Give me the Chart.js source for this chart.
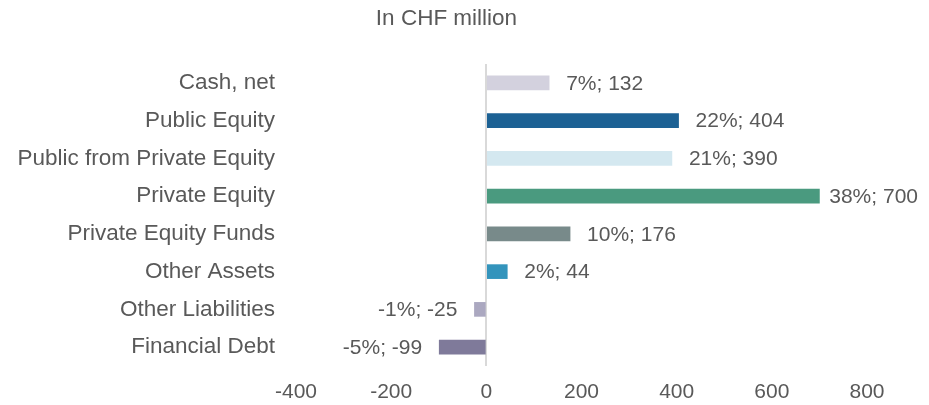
<!DOCTYPE html>
<html>
<head>
<meta charset="utf-8">
<script src="https://cdn.jsdelivr.net/npm/chart.js@4/dist/chart.umd.min.js"></script>
<style>
html,body{margin:0;padding:0;background:#fff;}
#wrap{width:929px;height:405px;}
</style>
</head>
<body>
<div id="wrap"><canvas id="c" width="929" height="405"></canvas></div>
<script>
const categories = ["Cash, net","Public Equity","Public from Private Equity","Private Equity","Private Equity Funds","Other Assets","Other Liabilities","Financial Debt"];
const values = [132, 404, 390, 700, 176, 44, -25, -99];
const shares = ["7%","22%","21%","38%","10%","2%","-1%","-5%"];
const colors = ["#d3d1de","#1c6194","#d4e8f0","#4a9a7f","#788a8a","#3394bc","#aba8c0","#7f7a9a"];
const xTicks = [-400,-200,0,200,400,600,800];

const FONT = "'Liberation Sans', Arial, sans-serif";
const TXT = "#595959";

const valueLabels = {
  id: 'valueLabels',
  afterDatasetsDraw(chart) {
    const ctx = chart.ctx;
    const meta = chart.getDatasetMeta(0);
    ctx.save();
    ctx.font = "21px " + FONT;
    ctx.fillStyle = TXT;
    ctx.textBaseline = 'middle';
    meta.data.forEach((el, i) => {
      const v = values[i];
      const txt = shares[i] + "; " + v;
      if (v >= 0) {
        const w = ctx.measureText(txt).width;
        const x = Math.min(el.x + 17, chart.width - 11 - w);
        ctx.textAlign = 'left'; ctx.fillText(txt, x, el.y + 1);
      } else {
        ctx.textAlign = 'right'; ctx.fillText(txt, el.x - 17, el.y + 1);
      }
    });
    ctx.restore();
  }
};

new Chart(document.getElementById('c'), {
  type: 'bar',
  data: {
    labels: categories,
    datasets: [{ data: values, backgroundColor: colors, barThickness: 14, borderWidth: 0 }]
  },
  options: {
    indexAxis: 'y',
    responsive: false,
    animation: false,
    layout: { padding: { left: 0, right: 36, top: 0, bottom: 0 } },
    plugins: {
      legend: { display: false },
      tooltip: { enabled: false },
      title: {
        display: true,
        text: "In CHF million",
        color: TXT,
        font: { family: FONT, size: 22.5, weight: 'normal' },
        padding: { top: 5, bottom: 32 }
      }
    },
    scales: {
      x: {
        min: -400, max: 800,
        afterBuildTicks(scale) { scale.ticks = xTicks.map(v => ({ value: v })); },
        afterFit(scale) { scale.height = 39; },
        border: { display: false },
        grid: {
          drawTicks: false,
          color: c => (c.tick && c.tick.value === 0) ? '#d9d9d9' : 'rgba(0,0,0,0)',
          lineWidth: 2
        },
        ticks: { color: TXT, font: { family: FONT, size: 21 }, padding: 14 }
      },
      y: {
        border: { display: false },
        grid: { display: false, drawTicks: false },
        afterFit(scale) { scale.width = 296; },
        ticks: { color: TXT, font: { family: FONT, size: 22.5 }, padding: 21 }
      },
      yRight: {
        position: 'right',
        display: true,
        border: { display: false },
        grid: { display: false, drawTicks: false },
        ticks: { display: false },
        afterFit(scale) { scale.width = 26; }
      }
    }
  },
  plugins: [valueLabels]
});
</script>
</body>
</html>
